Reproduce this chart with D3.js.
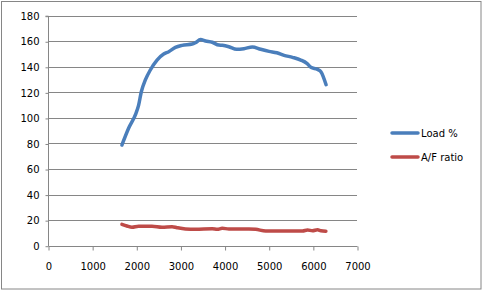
<!DOCTYPE html>
<html><head><meta charset="utf-8">
<script src="https://cdn.jsdelivr.net/npm/d3@7"></script>
<style>
html,body{margin:0;padding:0;background:#fff;}
svg{display:block;font-family:"DejaVu Sans",Verdana,sans-serif;}
</style></head>
<body>
<script>
const seriesNames = ["Load %", "A/F ratio"];
const seriesColors = ["#4A7EBB", "#BE4B48"];
const xTicks = [0,1000,2000,3000,4000,5000,6000,7000];
const yTicks = [0,20,40,60,80,100,120,140,160,180];

const loadRpm = [1675,1826,1993,2053,2114,2205,2318,2470,2621,2735,2886,3038,3265,3341,3455,3568,3720,3871,3950,4098,4273,4439,4629,4818,5008,5182,5348,5538,5727,5864,5955,6106,6182,6300];
const loadVal = [78.8,91.9,103.6,110,120.5,129.7,137.5,145.3,150,151.8,155.2,156.8,157.8,158.9,161.3,160.2,159.2,157,156.8,155.7,153.7,154.2,155.5,153.7,152.1,151,149,147.4,145.3,142.7,139.6,138,136.2,126];

const afRpm = [1675,1788,1902,2053,2356,2583,2811,2924,3114,3341,3720,3834,3947,4098,4553,4705,4932,5311,5766,5879,5992,6106,6182,6295];
const afVal = [16.7,15.4,14.4,15.2,15.2,14.4,14.9,14.1,13.1,12.8,13.3,12.8,13.6,13.1,13.1,12.8,11.5,11.5,11.5,12.3,11.7,12.5,11.7,11.3];

const W = 484, H = 293;
const svg = d3.select("body").append("svg").attr("width", W).attr("height", H);

svg.append("rect").attr("x",1.5).attr("y",1.5).attr("width",479.5).attr("height",287.5)
  .attr("fill","#fff").attr("stroke","#868686").attr("stroke-width",1);

const x = d3.scaleLinear().domain([0,7000]).range([48,357]);
const y = d3.scaleLinear().domain([0,180]).range([245.7,15.7]);

// gridlines
svg.append("g").selectAll("line").data(yTicks.filter(d=>d>0)).join("line")
  .attr("x1",x(0)).attr("x2",x(7000))
  .attr("y1",d=>Math.round(y(d))+0.5).attr("y2",d=>Math.round(y(d))+0.5)
  .attr("stroke","#868686").attr("stroke-width",1);

// y axis
const yAxis = d3.axisLeft(y).tickValues(yTicks).tickSize(3).tickPadding(6).tickFormat(d3.format("d"));
const gy = svg.append("g").attr("transform",`translate(${x(0)+0.5},0.5)`).call(yAxis);
gy.select(".domain").attr("stroke","#868686").attr("d",`M-3,${y(180)}H0V${y(0)}`);
gy.selectAll(".tick line").attr("stroke","#868686");
gy.selectAll("text").attr("fill","#000").style("font-size","10px").style("font-family","DejaVu Sans");

// x axis
const xAxis = d3.axisBottom(x).tickValues(xTicks).tickSize(4).tickPadding(12).tickFormat(d3.format("d"));
const gx = svg.append("g").attr("transform",`translate(0.5,${Math.round(y(0))+0.5})`).call(xAxis);
gx.select(".domain").attr("stroke","#868686").attr("d",`M${x(0)},0H${x(7000)}`);
gx.selectAll(".tick line").attr("stroke","#868686");
gx.selectAll("text").attr("fill","#000").style("font-size","10px").style("font-family","DejaVu Sans");

const line = d3.line().x(d=>x(d[0])).y(d=>y(d[1])).curve(d3.curveMonotoneX);
const loadData = loadRpm.map((r,i)=>[r,loadVal[i]]);
const afData = afRpm.map((r,i)=>[r,afVal[i]]);

[afData, loadData].forEach((data,k)=>{
  const idx = k===0 ? 1 : 0;
  svg.append("path").datum(data).attr("d",line).attr("fill","none")
    .attr("stroke",seriesColors[idx]).attr("stroke-width",3.5)
    .attr("stroke-linejoin","round").attr("stroke-linecap","round");
});

// legend
const legY = [133, 157];
seriesNames.forEach((n,i)=>{
  svg.append("line").attr("x1",392).attr("x2",418).attr("y1",legY[i]).attr("y2",legY[i])
    .attr("stroke",seriesColors[i]).attr("stroke-width",3.5).attr("stroke-linecap","round");
  svg.append("text").attr("x",421).attr("y",legY[i]).attr("dy","0.35em")
    .attr("fill","#000").style("font-size","10px").text(n);
});
</script>
</body></html>
